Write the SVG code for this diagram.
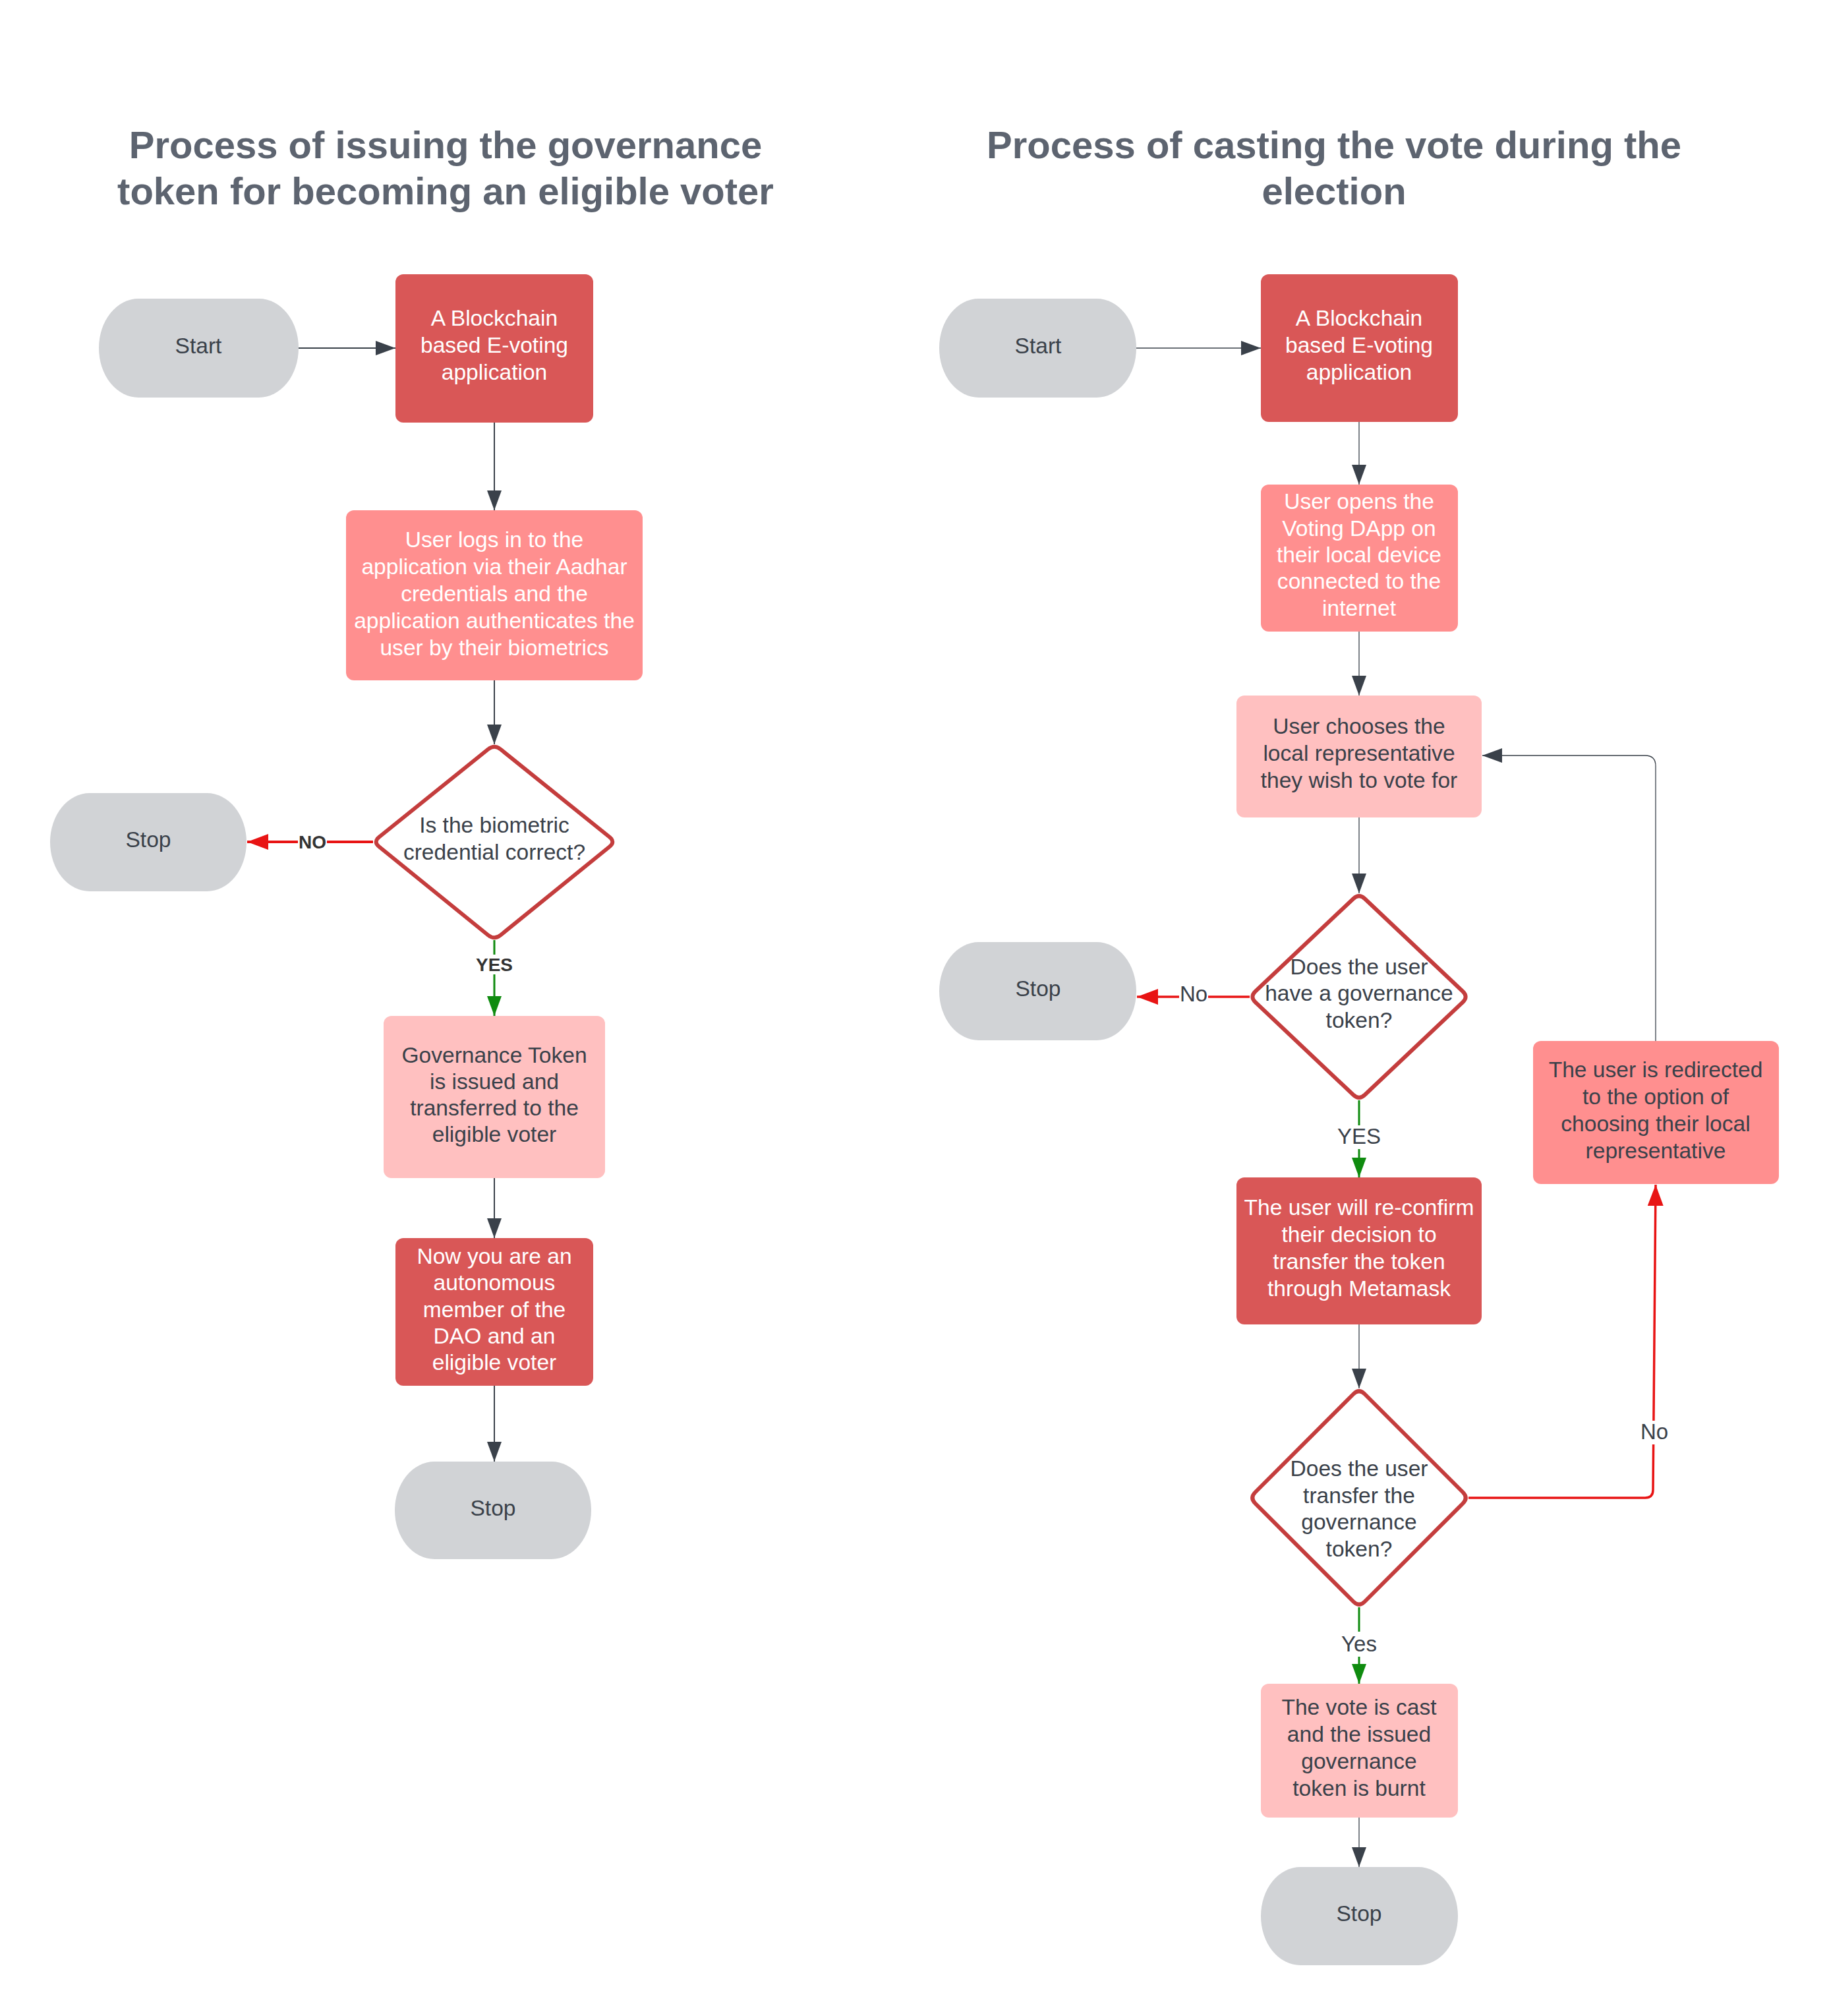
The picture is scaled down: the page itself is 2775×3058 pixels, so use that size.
<svg xmlns="http://www.w3.org/2000/svg" width="2775" height="3058" viewBox="0 0 2775 3058">
  <style>
    .title { font-family: "Liberation Sans", Arial, sans-serif; font-weight: bold; font-size: 58px; fill: #5d6470; text-anchor: middle; }
    .t { font-family: "Liberation Sans", Arial, sans-serif; font-size: 33.6px; text-anchor: middle; }
    .light { fill: #ffffff; }
    .dark { fill: #3a414a; }
    .lbl { font-family: "Liberation Sans", Arial, sans-serif; font-size: 33px; fill: #3a414a; text-anchor: middle; }
    .lblb { font-family: "Liberation Sans", Arial, sans-serif; font-size: 28px; font-weight: bold; fill: #333333; text-anchor: middle; }
    .term { fill: #d1d3d6; }
    .deep { fill: #d95757; }
    .mid { fill: #ff8f8f; }
    .soft { fill: #ffc0c0; }
    .dec { fill: #ffffff; stroke: #c43d3d; stroke-width: 6; stroke-linejoin: round; }
    .c { fill: none; stroke: #3a414a; }
    .c2 { stroke-width: 2; }
    .c1 { stroke-width: 1.3; }
    .red { fill: none; stroke: #e81414; }
    .grn { fill: none; stroke: #0f8b0f; stroke-width: 3; }
    .bg { fill: #ffffff; }
  </style>
  <defs>
    <marker id="ad" markerUnits="userSpaceOnUse" markerWidth="30" markerHeight="22" refX="30" refY="11" orient="auto">
      <path d="M0,0 L30,11 L0,22 Z" fill="#3a414a"/>
    </marker>
    <marker id="ar" markerUnits="userSpaceOnUse" markerWidth="32" markerHeight="24" refX="32" refY="12" orient="auto">
      <path d="M0,0 L32,12 L0,24 Z" fill="#e81414"/>
    </marker>
    <marker id="ag" markerUnits="userSpaceOnUse" markerWidth="30" markerHeight="22" refX="30" refY="11" orient="auto">
      <path d="M0,0 L30,11 L0,22 Z" fill="#0f8b0f"/>
    </marker>
  </defs>

  <rect width="2775" height="3058" fill="#ffffff"/>

  <!-- headings -->
  <g id="title-issue">
    <text class="title" x="676" y="240">Process of issuing the governance</text>
    <text class="title" x="676" y="310">token for becoming an eligible voter</text>
  </g>
  <g id="title-vote">
    <text class="title" x="2024" y="240">Process of casting the vote during the</text>
    <text class="title" x="2024" y="310">election</text>
  </g>

  <!-- connectors -->
  <g id="connectors">
    <!-- issuing flow -->
    <path class="c c2" d="M453,528 L600,528" marker-end="url(#ad)"/>
    <path class="c c2" d="M750,641 L750,774" marker-end="url(#ad)"/>
    <path class="c c2" d="M750,1032 L750,1129" marker-end="url(#ad)"/>
    <path class="red" stroke-width="4" d="M566,1277 L375,1277" marker-end="url(#ar)"/>
    <path class="grn" d="M750,1426 L750,1541" marker-end="url(#ag)"/>
    <path class="c c2" d="M750,1787 L750,1878" marker-end="url(#ad)"/>
    <path class="c c2" d="M750,2102 L750,2217" marker-end="url(#ad)"/>

    <!-- voting flow -->
    <path class="c c1" d="M1724,528 L1913,528" marker-end="url(#ad)"/>
    <path class="c c1" d="M2062,640 L2062,735" marker-end="url(#ad)"/>
    <path class="c c1" d="M2062,958 L2062,1055" marker-end="url(#ad)"/>
    <path class="c c1" d="M2062,1240 L2062,1355" marker-end="url(#ad)"/>
    <path class="red" stroke-width="3.5" d="M1896,1512 L1725,1512" marker-end="url(#ar)"/>
    <path class="grn" d="M2062,1669 L2062,1786" marker-end="url(#ag)"/>
    <path class="c c1" d="M2062,2009 L2062,2106" marker-end="url(#ad)"/>
    <path class="red" stroke-width="3.5" d="M2228,2272 L2496,2272 Q2508,2272 2508,2260 L2512,1797" marker-end="url(#ar)"/>
    <path class="c c1" d="M2512,1579 L2512,1162 Q2512,1146 2496,1146 L2249,1146" marker-end="url(#ad)"/>
    <path class="grn" d="M2062,2438 L2062,2554" marker-end="url(#ag)"/>
    <path class="c c1" d="M2062,2757 L2062,2832" marker-end="url(#ad)"/>

    <!-- connector labels -->
    <rect class="bg" x="452" y="1262" width="44" height="30"/>
    <text class="lblb" x="474" y="1287">NO</text>
    <rect class="bg" x="720" y="1448" width="60" height="30"/>
    <text class="lblb" x="750" y="1473">YES</text>
    <rect class="bg" x="1789" y="1494" width="44" height="32"/>
    <text class="lbl" x="1811" y="1519">No</text>
    <rect class="bg" x="2027" y="1707" width="70" height="36"/>
    <text class="lbl" x="2062" y="1735">YES</text>
    <rect class="bg" x="2490" y="2155" width="40" height="36"/>
    <text class="lbl" x="2510" y="2183">No</text>
    <rect class="bg" x="2034" y="2475" width="56" height="38"/>
    <text class="lbl" x="2062" y="2505">Yes</text>
  </g>

  <!-- issuing flow nodes -->
  <g id="start-issue">
    <rect class="term" x="150" y="453" width="303" height="150" rx="60" ry="75"/>
    <text class="t dark" x="301" y="536">Start</text>
  </g>
  <g id="app-issue">
    <rect class="deep" x="600" y="416" width="300" height="225" rx="12"/>
    <text class="t light" x="750" y="494">A Blockchain</text>
    <text class="t light" x="750" y="535">based E-voting</text>
    <text class="t light" x="750" y="576">application</text>
  </g>
  <g id="login">
    <rect class="mid" x="525" y="774" width="450" height="258" rx="12"/>
    <text class="t light" x="750" y="830">User logs in to the</text>
    <text class="t light" x="750" y="871">application via their Aadhar</text>
    <text class="t light" x="750" y="912">credentials and the</text>
    <text class="t light" x="750" y="953">application authenticates the</text>
    <text class="t light" x="750" y="994">user by their biometrics</text>
  </g>
  <g id="check-biometric">
    <path class="dec" d="M759.4,1136.5 L924.6,1269.5 Q934,1277 924.6,1284.5 L759.4,1418.5 Q750,1426 740.6,1418.5 L575.4,1284.5 Q566,1277 575.4,1269.5 L740.6,1136.5 Q750,1129 759.4,1136.5 Z"/>
    <text class="t dark" x="750" y="1263">Is the biometric</text>
    <text class="t dark" x="750" y="1304">credential correct?</text>
  </g>
  <g id="stop-rejected">
    <rect class="term" x="76" y="1203" width="298" height="149" rx="60" ry="74.5"/>
    <text class="t dark" x="225" y="1285">Stop</text>
  </g>
  <g id="token-issued">
    <rect class="soft" x="582" y="1541" width="336" height="246" rx="12"/>
    <text class="t dark" x="750" y="1612">Governance Token</text>
    <text class="t dark" x="750" y="1652">is issued and</text>
    <text class="t dark" x="750" y="1692">transferred to the</text>
    <text class="t dark" x="750" y="1732">eligible voter</text>
  </g>
  <g id="dao-member">
    <rect class="deep" x="600" y="1878" width="300" height="224" rx="12"/>
    <text class="t light" x="750" y="1917">Now you are an</text>
    <text class="t light" x="750" y="1957">autonomous</text>
    <text class="t light" x="750" y="1998">member of the</text>
    <text class="t light" x="750" y="2038">DAO and an</text>
    <text class="t light" x="750" y="2078">eligible voter</text>
  </g>
  <g id="stop-issue">
    <rect class="term" x="599" y="2217" width="298" height="148" rx="60" ry="74"/>
    <text class="t dark" x="748" y="2299">Stop</text>
  </g>

  <!-- voting flow nodes -->
  <g id="start-vote">
    <rect class="term" x="1425" y="453" width="299" height="150" rx="60" ry="75"/>
    <text class="t dark" x="1575" y="536">Start</text>
  </g>
  <g id="app-vote">
    <rect class="deep" x="1913" y="416" width="299" height="224" rx="12"/>
    <text class="t light" x="2062" y="494">A Blockchain</text>
    <text class="t light" x="2062" y="535">based E-voting</text>
    <text class="t light" x="2062" y="576">application</text>
  </g>
  <g id="open-dapp">
    <rect class="mid" x="1913" y="735" width="299" height="223" rx="12"/>
    <text class="t light" x="2062" y="772">User opens the</text>
    <text class="t light" x="2062" y="813">Voting DApp on</text>
    <text class="t light" x="2062" y="853">their local device</text>
    <text class="t light" x="2062" y="893">connected to the</text>
    <text class="t light" x="2062" y="934">internet</text>
  </g>
  <g id="choose-rep">
    <rect class="soft" x="1876" y="1055" width="372" height="185" rx="12"/>
    <text class="t dark" x="2062" y="1113">User chooses the</text>
    <text class="t dark" x="2062" y="1154">local representative</text>
    <text class="t dark" x="2062" y="1195">they wish to vote for</text>
  </g>
  <g id="has-token">
    <path class="dec" d="M2070.7,1363.2 L2219.3,1503.8 Q2228,1512 2219.3,1520.2 L2070.7,1660.8 Q2062,1669 2053.3,1660.8 L1904.7,1520.2 Q1896,1512 1904.7,1503.8 L2053.3,1363.2 Q2062,1355 2070.7,1363.2 Z"/>
    <text class="t dark" x="2062" y="1478">Does the user</text>
    <text class="t dark" x="2062" y="1518">have a governance</text>
    <text class="t dark" x="2062" y="1559">token?</text>
  </g>
  <g id="stop-no-token">
    <rect class="term" x="1425" y="1429" width="299" height="149" rx="60" ry="74.5"/>
    <text class="t dark" x="1575" y="1511">Stop</text>
  </g>
  <g id="reconfirm">
    <rect class="deep" x="1876" y="1786" width="372" height="223" rx="12"/>
    <text class="t light" x="2062" y="1843">The user will re-confirm</text>
    <text class="t light" x="2062" y="1884">their decision to</text>
    <text class="t light" x="2062" y="1925">transfer the token</text>
    <text class="t light" x="2062" y="1966">through Metamask</text>
  </g>
  <g id="redirect">
    <rect class="mid" x="2326" y="1579" width="373" height="217" rx="12"/>
    <text class="t dark" x="2512" y="1634">The user is redirected</text>
    <text class="t dark" x="2512" y="1675">to the option of</text>
    <text class="t dark" x="2512" y="1716">choosing their local</text>
    <text class="t dark" x="2512" y="1757">representative</text>
  </g>
  <g id="transfer-token">
    <path class="dec" d="M2070.5,2114.5 L2219.5,2263.5 Q2228,2272 2219.5,2280.5 L2070.5,2429.5 Q2062,2438 2053.5,2429.5 L1904.5,2280.5 Q1896,2272 1904.5,2263.5 L2053.5,2114.5 Q2062,2106 2070.5,2114.5 Z"/>
    <text class="t dark" x="2062" y="2239">Does the user</text>
    <text class="t dark" x="2062" y="2280">transfer the</text>
    <text class="t dark" x="2062" y="2320">governance</text>
    <text class="t dark" x="2062" y="2361">token?</text>
  </g>
  <g id="vote-cast">
    <rect class="soft" x="1913" y="2554" width="299" height="203" rx="12"/>
    <text class="t dark" x="2062" y="2601">The vote is cast</text>
    <text class="t dark" x="2062" y="2642">and the issued</text>
    <text class="t dark" x="2062" y="2683">governance</text>
    <text class="t dark" x="2062" y="2724">token is burnt</text>
  </g>
  <g id="stop-vote">
    <rect class="term" x="1913" y="2832" width="299" height="149" rx="60" ry="74.5"/>
    <text class="t dark" x="2062" y="2914">Stop</text>
  </g>
</svg>
